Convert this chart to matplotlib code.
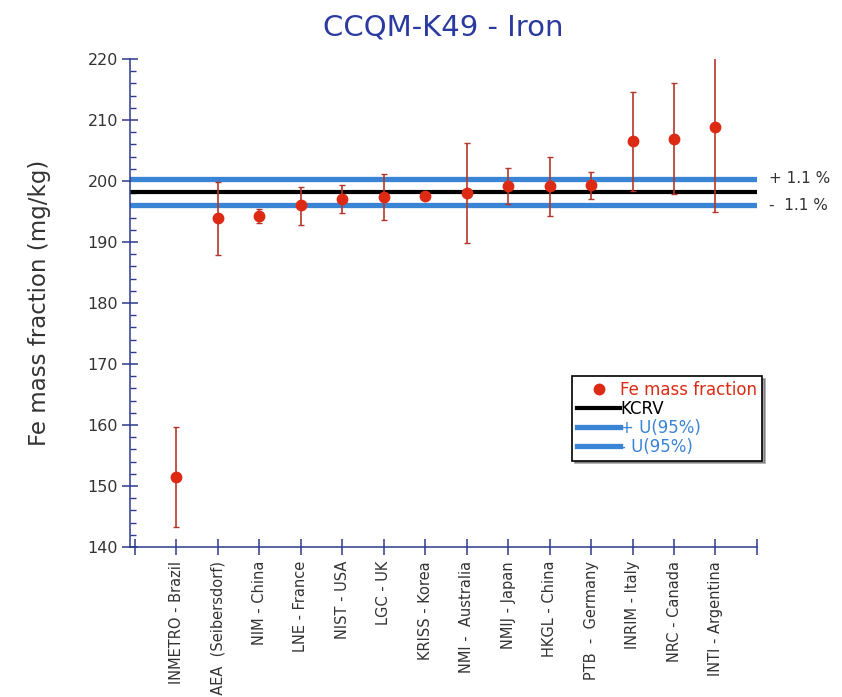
import matplotlib
matplotlib.use("Agg")
import matplotlib.pyplot as plt
from matplotlib.ticker import AutoMinorLocator, FixedLocator

# data
labs = ["INMETRO - Brazil", "IAEA  (Seibersdorf)", "NIM - China", "LNE - France",
        "NIST - USA", "LGC - UK", "KRISS - Korea", "NMI -  Australia", "NMIJ - Japan",
        "HKGL - China", "PTB  -  Germany", "INRIM - Italy", "NRC - Canada",
        "INTI - Argentina"]
vals = [151.5, 193.9, 194.3, 196.0, 197.0, 197.4, 197.6, 198.1, 199.1, 199.1,
        199.3, 206.6, 206.8, 208.9]
err_lo = [8.3, 6.0, 1.2, 3.2, 2.2, 3.8, 0.5, 8.3, 2.9, 4.8, 2.3, 8.2, 8.9, 14.0]
err_hi = [8.2, 6.0, 1.1, 3.0, 2.3, 3.7, 0.5, 8.1, 3.1, 4.8, 2.1, 8.0, 9.2, 14.0]
kcrv = 198.2
u_plus = 200.4
u_minus = 196.0

navy = "#2e3a8c"
txt = "#333333"
red = "#dc2a14"
blue = "#3a84d6"

fig = plt.figure(figsize=(8.42, 6.97), dpi=100)
ax = fig.add_axes([0.1544, 0.2152, 0.7446, 0.7002])

x = list(range(1, len(vals) + 1))

ax.axhline(kcrv, color="black", lw=3.0, zorder=2, label="KCRV")
ax.axhline(u_plus, color=blue, lw=3.8, zorder=2, label="+ U(95%)")
ax.axhline(u_minus, color=blue, lw=3.8, zorder=2, label="- U(95%)")

ax.errorbar(x, vals, yerr=[err_lo, err_hi], fmt="none", ecolor="#b4372a",
            elinewidth=1.2, capsize=2.5, capthick=1.0, zorder=3)
ax.plot(x, vals, "o", color=red, ms=7.5, zorder=4, label="Fe mass fraction")

ax.set_xlim(-0.12, 15)
ax.set_ylim(140, 220)

for s in ["top", "right"]:
    ax.spines[s].set_visible(False)
for s in ["left", "bottom"]:
    ax.spines[s].set_color(navy)
    ax.spines[s].set_linewidth(1.1)

ax.yaxis.set_major_locator(FixedLocator(range(140, 221, 10)))
ax.yaxis.set_minor_locator(AutoMinorLocator(5))
ax.tick_params(axis="y", which="major", direction="inout", length=11, width=1.1,
               color=navy, labelcolor=txt, labelsize=11.5, pad=3)
ax.tick_params(axis="y", which="minor", direction="in", length=4, width=1.0, color=navy)

ax.set_xticks(range(0, 16))
ax.set_xticklabels([""] + labs + [""], rotation=90, va="top", ha="center")
ax.tick_params(axis="x", direction="inout", length=12, width=1.1, color=navy,
               labelcolor=txt, labelsize=10.5, pad=4)

ax.set_ylabel("Fe mass fraction (mg/kg)", fontsize=16.5, color=txt, labelpad=26)
ax.set_title("CCQM-K49 - Iron", fontsize=21, color="#2b3a9e", pad=17)

ax.text(1.02, u_plus, "+ 1.1 %", transform=ax.get_yaxis_transform(), fontsize=11,
        color=txt, va="center", ha="left", clip_on=False)
ax.text(1.02, u_minus, "-  1.1 %", transform=ax.get_yaxis_transform(), fontsize=11,
        color=txt, va="center", ha="left", clip_on=False)

handles, labels = ax.get_legend_handles_labels()
order = [3, 0, 1, 2]
leg = ax.legend([handles[i] for i in order], [labels[i] for i in order],
                loc="upper left", bbox_to_anchor=(0.705, 0.35), frameon=True,
                fancybox=False, shadow=True, edgecolor="black", fontsize=12,
                handlelength=2.6, handletextpad=0.0, labelspacing=0.05,
                borderpad=0.3, borderaxespad=0)
leg.get_frame().set_linewidth(1.2)
for t, c in zip(leg.get_texts(), [red, "black", blue, blue]):
    t.set_color(c)

fig.savefig("out.png", dpi=100)
